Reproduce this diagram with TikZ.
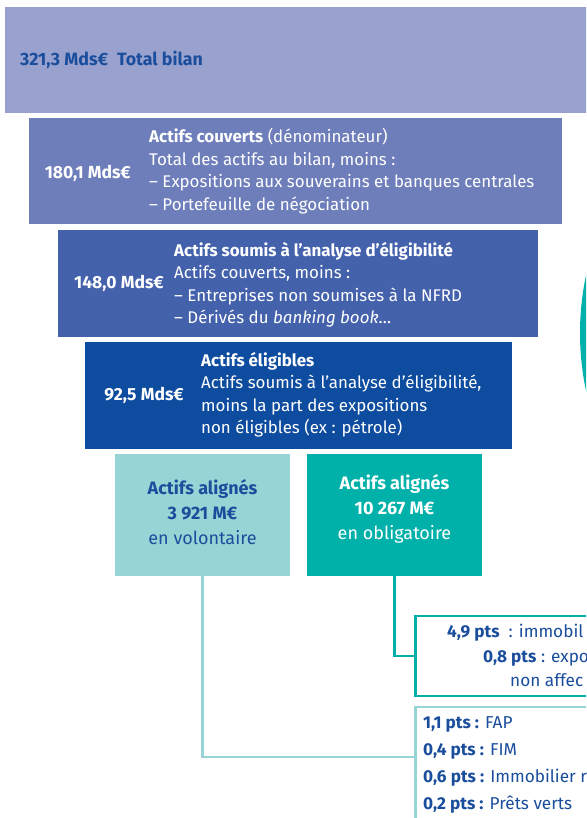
\documentclass[tikz,border=0pt]{standalone}
\usepackage{fontspec}
\setmainfont{Fira Sans}
\definecolor{bilan}{HTML}{99A2CE}
\definecolor{couverts}{HTML}{6E7EBB}
\definecolor{soumis}{HTML}{4462AC}
\definecolor{eligibles}{HTML}{0E4C9F}
\definecolor{volontaire}{HTML}{97D4D5}
\definecolor{obligatoire}{HTML}{00B1AA}
\definecolor{texte}{HTML}{1A4D9C}
\begin{document}
\begin{tikzpicture}
[x=1pt,y=-1pt,%
  every node/.style={inner sep=0pt},%
  box/.style={rectangle,draw=none},%
  ptsbox/.style={rectangle,line width=2.5pt,fill=white},%
  amount/.style={anchor=east,text=white,font=\fontsize{17.5}{22}\selectfont\bfseries},%
  desc/.style={anchor=west,align=left,text=white,font=\fontsize{16.9}{22.5}\selectfont},%
  aligned/.style={align=center,font=\fontsize{18}{25}\selectfont},%
  ptsline/.style={anchor=west,text=texte,font=\fontsize{17.2}{26.7}\selectfont},%
  link/.style={line width=2.5pt}]
\useasboundingbox (0,0) rectangle (586,818);
\clip (0,0) rectangle (586,818);
% donut chart on the right, cut by the page edge
\fill[obligatoire] (858,333) circle[radius=278pt];
% pyramid of assets
\node[box,fill=bilan,minimum width=595pt,minimum height=106pt] (bilan) at (302.5,60) {};
\node[box,fill=couverts,minimum width=533pt,minimum height=106pt] (couverts) at (295.5,171) {};
\node[box,fill=soumis,minimum width=480pt,minimum height=107pt] (soumis) at (298,283.5) {};
\node[box,fill=eligibles,minimum width=427pt,minimum height=107pt] (eligibles) at (298.5,395.5) {};
\node[box,fill=volontaire,minimum width=175pt,minimum height=122pt] (vol) at (202.5,515) {};
\node[box,fill=obligatoire,minimum width=175pt,minimum height=122pt] (obl) at (394.5,515) {};
\node[ptsbox,draw=obligatoire,minimum width=205pt,minimum height=80pt] (oblpts) at (518,656) {};
\node[ptsbox,draw=volontaire,minimum width=205pt,minimum height=174pt] (volpts) at (518,794) {};
% texts
\node[anchor=west,text=texte,font=\fontsize{17.8}{22}\selectfont\bfseries] (bilantxt) at (20,60)
  {321,3 Mds€\hspace{9pt}Total bilan};
\node[amount] (couvertsval) at (131,173) {180,1 Mds€};
\node[desc] (couvertstxt) at (149,171)
  {\textbf{Actifs couverts} (dénominateur)\\
   Total des actifs au bilan, moins :\\
   – Expositions aux souverains et banques centrales\\
   – Portefeuille de négociation};
\node[amount] (soumisval) at (164,283) {148,0 Mds€};
\node[desc] (soumistxt) at (174,285)
  {\textbf{Actifs soumis à l’analyse d’éligibilité}\\
   Actifs couverts, moins :\\
   – Entreprises non soumises à la NFRD\\
   – Dérivés du \textit{banking book}…};
\node[amount] (eligiblesval) at (184,395) {92,5 Mds€};
\node[desc] (eligiblestxt) at (201,394.5)
  {\textbf{Actifs éligibles}\\
   Actifs soumis à l’analyse d’éligibilité,\\
   moins la part des expositions\\
   non éligibles (ex : pétrole)};
\node[aligned,text=texte] (voltxt) at (202.5,512)
  {\textbf{Actifs alignés}\\ \textbf{3 921 M€}\\ en volontaire};
\node[aligned,text=white] (obltxt) at (394.5,509)
  {\textbf{Actifs alignés}\\ \textbf{10 267 M€}\\ en obligatoire};
\node[ptsline] (pts49) at (447,633) {\textbf{4,9 pts}\ \ : immobil};
\node[ptsline] (pts08) at (483,658) {\textbf{0,8 pts} : expo};
\node[ptsline] (pts08b) at (510,680) {non affec};
\node[ptsline,align=left] (volptstxt) at (423,765)
  {\textbf{1,1 pts :} FAP\\
   \textbf{0,4 pts :} FIM\\
   \textbf{0,6 pts :} Immobilier r\\
   \textbf{0,2 pts :} Prêts verts};
% connectors
\draw[link,obligatoire] (obl.south) |- (oblpts.west);
\draw[link,volontaire] (vol.south) |- ([yshift=-51pt]volpts.north west);
\end{tikzpicture}
\end{document}
